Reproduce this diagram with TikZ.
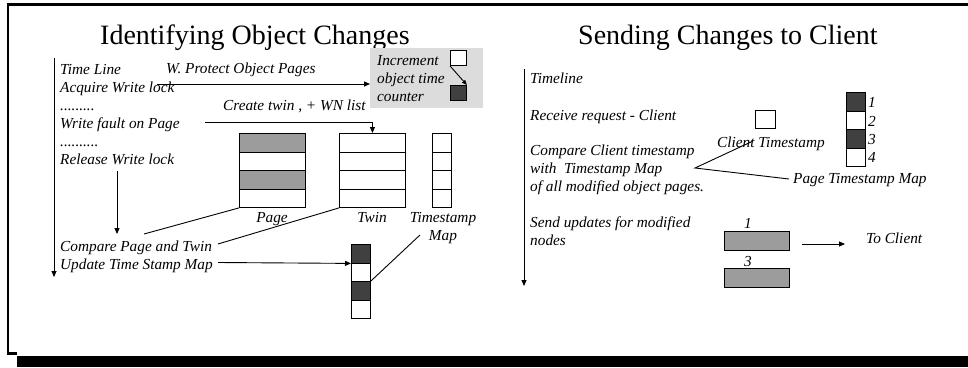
\documentclass[tikz,border=0pt]{standalone}
\usepackage{fontspec}
\setmainfont{Liberation Serif}
\usetikzlibrary{arrows.meta}
\definecolor{midgray}{HTML}{9C9C9C}
\definecolor{darkcell}{HTML}{404040}
\definecolor{boxgray}{HTML}{DCDCDC}
\begin{document}
\begin{tikzpicture}[x=1pt,y=-1pt,
 lbl/.style={font=\fontsize{15.3}{18}\selectfont\itshape, inner sep=0pt, anchor=base west},
 clbl/.style={font=\fontsize{15.3}{18}\selectfont\itshape, inner sep=0pt, anchor=base},
 ttl/.style={font=\fontsize{28}{32}\selectfont, inner sep=0pt, anchor=base west},
 ln/.style={line width=0.9pt, black},
 arr/.style={ln, -{Triangle[length=6pt,width=5pt]}},
 cellw/.style={draw=black, line width=0.9pt, fill=white, inner sep=0pt, anchor=north west},
 cellg/.style={cellw, fill=midgray},
 celld/.style={cellw, fill=darkcell}
]
\useasboundingbox (0,0) rectangle (968,367);
% frame
\draw[line width=2.6pt] (8,354) -- (8,4.5) -- (968,4.5);
\draw[line width=2.6pt] (6.7,353.5) -- (17,353.5);
\fill (17,355.5) rectangle (968,367);

% ---------- left panel ----------
\node[ttl] (ttlL) at (100,44) {Identifying Object Changes};
\coordinate (tlA) at (54,58);
\coordinate (tlB) at (54,277);
\draw[arr] (tlA) -- (tlB);

\node[lbl] (t1) at (60,74) {Time Line};
\node[lbl] (t2) at (60,92) {Acquire Write lock};
\node[lbl] (t3) at (60,110) {.........};
\node[lbl] (t4) at (60,128) {Write fault on Page};
\node[lbl] (t5) at (60,146) {..........};
\node[lbl] (t6) at (60,164) {Release Write lock};

\node[lbl] (wp) at (166,73) {W. Protect Object Pages};
\node[fill=boxgray, inner sep=0pt, minimum width=113pt, minimum height=60pt, anchor=north west] (inc) at (370,48) {};
\node[lbl] (inc1) at (377,65) {Increment};
\node[lbl] (inc2) at (377,83) {object time};
\node[lbl] (inc3) at (377,101) {counter};
\node[cellw, minimum width=16pt, minimum height=15pt] (sqa) at (450,50) {};
\node[celld, minimum width=16pt, minimum height=15pt] (sqb) at (450,85) {};
\draw[ln, -{Triangle[length=5pt,width=4pt]}] (sqa.south west) -- (sqb.north east);
\coordinate (wpS) at (157,84);
\draw[arr] (wpS) -- (wpS -| inc.west);

\node[lbl] (ct) at (223,110) {Create twin , + WN list};

% page
\node[cellg, minimum width=66pt, minimum height=18.5pt] (p1) at (239,133) {};
\node[cellw, minimum width=66pt, minimum height=18.5pt] (p2) at (239,151.5) {};
\node[cellg, minimum width=66pt, minimum height=18.5pt] (p3) at (239,170) {};
\node[cellw, minimum width=66pt, minimum height=18.5pt] (p4) at (239,188.5) {};
% twin
\node[cellw, minimum width=66pt, minimum height=18.5pt] (w1) at (339,133) {};
\node[cellw, minimum width=66pt, minimum height=18.5pt] (w2) at (339,151.5) {};
\node[cellw, minimum width=66pt, minimum height=18.5pt] (w3) at (339,170) {};
\node[cellw, minimum width=66pt, minimum height=18.5pt] (w4) at (339,188.5) {};
% timestamp map
\node[cellw, minimum width=19pt, minimum height=18.5pt] (m1) at (432,133) {};
\node[cellw, minimum width=19pt, minimum height=18.5pt] (m2) at (432,151.5) {};
\node[cellw, minimum width=19pt, minimum height=18.5pt] (m3) at (432,170) {};
\node[cellw, minimum width=19pt, minimum height=18.5pt] (m4) at (432,188.5) {};

\coordinate (ctS) at (205,122);
\draw[arr] (ctS) -| (w1.north);

\node[clbl] (pglbl) at (272,222) {Page};
\node[clbl] (twlbl) at (372,222) {Twin};
\node[clbl] (tslbl) at (443,222) {Timestamp};
\node[clbl] (tslbl2) at (443,240) {Map};

\coordinate (r1) at (117,171);
\coordinate (r2) at (117,234);
\draw[arr] (r1) -- (r2);

\node[lbl] (cmp) at (60,251) {Compare Page and Twin};
\node[lbl] (upd) at (60,269) {Update Time Stamp Map};
\coordinate (cA) at (144,234);
\coordinate (cB) at (218,244);
\draw[ln] (p4.south west) -- (cA);
\draw[ln] (w4.south west) -- (cB);

% bottom stack
\node[celld, minimum width=19pt, minimum height=18.5pt] (s1) at (351,244) {};
\node[cellw, minimum width=19pt, minimum height=18.5pt] (s2) at (351,262.5) {};
\node[celld, minimum width=19pt, minimum height=18.5pt] (s3) at (351,281) {};
\node[cellw, minimum width=19pt, minimum height=18.5pt] (s4) at (351,299.5) {};
\coordinate (uS) at (218,262.5);
\draw[arr] (uS) -- (s1.south west);
\coordinate (mapEnd) at (420,235);
\draw[ln] (mapEnd) -- (s3.north east);

% ---------- right panel ----------
\node[ttl] (ttlR) at (578,44) {Sending Changes to Client};
\coordinate (rtA) at (524,69);
\coordinate (rtB) at (524,286);
\draw[arr] (rtA) -- (rtB);

\node[lbl] (q1) at (530,83) {Timeline};
\node[lbl] (q2) at (530,120) {Receive request - Client};
\node[lbl] (q3) at (530,155) {Compare Client timestamp};
\node[lbl] (q4) at (530,173) {with\ \ Timestamp Map};
\node[lbl] (q5) at (530,191) {of all modified object pages.};
\node[lbl] (q6) at (530,227) {Send updates for modified};
\node[lbl] (q7) at (530,245) {nodes};

\node[cellw, minimum width=20pt, minimum height=18pt] (cts) at (755,110) {};
\node[lbl] (ctslbl) at (717,147) {Client Timestamp};

\node[celld, minimum width=19pt, minimum height=18.5pt] (k1) at (846,92) {};
\node[cellw, minimum width=19pt, minimum height=18.5pt] (k2) at (846,110.5) {};
\node[celld, minimum width=19pt, minimum height=18.5pt] (k3) at (846,129) {};
\node[cellw, minimum width=19pt, minimum height=18.5pt] (k4) at (846,147.5) {};
\node[lbl] (n1) at (868,107) {1};
\node[lbl] (n2) at (868,126) {2};
\node[lbl] (n3) at (868,144) {3};
\node[lbl] (n4) at (868,162) {4};

\node[lbl] (ptm) at (793,183) {Page Timestamp Map};
\coordinate (cv) at (695,168);
\coordinate (cvA) at (753,141);
\coordinate (cvB) at (789,179);
\draw[ln] (cvA) -- (cv) -- (cvB);

\node[cellg, minimum width=65pt, minimum height=19pt] (b1) at (724,231) {};
\node[cellg, minimum width=65pt, minimum height=19pt] (b3) at (724,268) {};
\node[clbl] (bl1) at (748,228) {1};
\node[clbl] (bl3) at (748,266) {3};

\coordinate (toA) at (802,244);
\coordinate (toB) at (845,244);
\draw[arr] (toA) -- (toB);
\node[lbl] (toc) at (866,243) {To Client};
\end{tikzpicture}
\end{document}
